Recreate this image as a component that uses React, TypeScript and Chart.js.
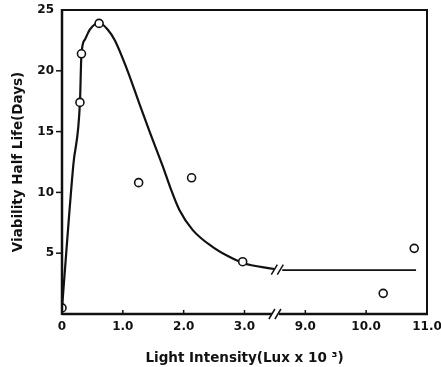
import React, { useEffect, useRef } from "react";
import { Chart, registerables } from "chart.js";

Chart.register(...registerables);

// Measured viability half life (days) against light intensity (lux x 10^3)
const sampleLux = [0, 0.295, 0.32, 0.61, 1.26, 2.13, 2.97, 10.28, 10.79];
const sampleHalfLife = [0.5, 17.4, 21.4, 23.9, 10.8, 11.2, 4.3, 1.7, 5.4];

// Fitted trend, low-intensity part (left of the axis break)
const fitLowLux = [0, 0.185, 0.295, 0.32, 0.38, 0.46, 0.61, 0.75, 0.87, 1.07, 1.25, 1.44, 1.66, 1.78, 1.93, 2.15, 2.48, 2.75, 2.97, 3.49];
const fitLowHalfLife = [0.5, 12.2, 17.4, 21.4, 22.6, 23.4, 23.95, 23.4, 22.5, 20.1, 17.6, 15.0, 12.1, 10.4, 8.55, 6.9, 5.5, 4.7, 4.2, 3.7];

// Fitted trend, high-intensity part (right of the axis break)
const fitHighLux = [8.62, 10.82];
const fitHighHalfLife = [3.6, 3.6];

// Axis ticks
const xTickValues = [0, 1, 2, 3, 9, 10, 11];
const yTickValues = [5, 10, 15, 20, 25];

// The x axis skips 3.5–8.5; values past the break are shifted left by 5
const BREAK_AT = 3.5;
const BREAK_SHIFT = 5;
const toAxis = (x: number) => (x <= BREAK_AT ? x : x - BREAK_SHIFT);
const fromAxis = (v: number) => (v <= BREAK_AT ? v : v + BREAK_SHIFT);

const FONT = "'DejaVu Sans', Verdana, sans-serif";
const INK = "#111";

const pairs = (xs: number[], ys: number[]) => xs.map((x, i) => ({ x: toAxis(x), y: ys[i] }));

const framePlugin = {
  id: "frame",
  afterDatasetsDraw(chart: any) {
    const { ctx, chartArea, scales } = chart;
    const { left, right, top, bottom } = chartArea;
    const xs = scales.x;
    const ys = scales.y;
    const bx = xs.getPixelForValue(BREAK_AT);
    ctx.save();
    ctx.strokeStyle = INK;
    ctx.lineCap = "butt";

    // top and right border
    ctx.lineWidth = 2;
    ctx.beginPath();
    ctx.moveTo(left, top);
    ctx.lineTo(right, top);
    ctx.lineTo(right, bottom);
    ctx.stroke();

    // left axis
    ctx.lineWidth = 2.5;
    ctx.beginPath();
    ctx.moveTo(left, top - 1);
    ctx.lineTo(left, bottom + 1);
    ctx.stroke();

    // bottom axis with a gap at the break
    ctx.beginPath();
    ctx.moveTo(left, bottom);
    ctx.lineTo(bx - 3, bottom);
    ctx.moveTo(bx + 4, bottom);
    ctx.lineTo(right + 1, bottom);
    ctx.stroke();

    // x ticks point into the plot
    ctx.lineWidth = 1.5;
    xTickValues.forEach((t) => {
      const v = toAxis(t);
      if (v <= 0 || t >= 11) return;
      const px = xs.getPixelForValue(v);
      ctx.beginPath();
      ctx.moveTo(px, bottom);
      ctx.lineTo(px, bottom - 4);
      ctx.stroke();
    });

    // y ticks point outwards
    yTickValues.forEach((t) => {
      if (t >= 25) return;
      const py = ys.getPixelForValue(t);
      ctx.beginPath();
      ctx.moveTo(left, py);
      ctx.lineTo(left - 6, py);
      ctx.stroke();
    });

    // break marks on the axis and on the trend line
    const slash = (cx: number, cy: number) => {
      ctx.lineWidth = 1.5;
      [-3, 3].forEach((d) => {
        ctx.beginPath();
        ctx.moveTo(cx + d - 3, cy + 5);
        ctx.lineTo(cx + d + 3, cy - 5);
        ctx.stroke();
      });
    };
    slash(bx, bottom);
    const cy = ys.getPixelForValue((fitLowHalfLife[fitLowHalfLife.length - 1] + fitHighHalfLife[0]) / 2);
    slash(xs.getPixelForValue(toAxis(fitLowLux[fitLowLux.length - 1])) + 3, cy);
    ctx.restore();
  },
};

export default function App() {
  const ref = useRef<HTMLCanvasElement | null>(null);

  useEffect(() => {
    if (!ref.current) return;
    const chart = new Chart(ref.current, {
      type: "scatter",
      data: {
        datasets: [
          {
            label: "samples",
            data: pairs(sampleLux, sampleHalfLife),
            pointRadius: 4,
            pointBorderWidth: 1.6,
            pointBackgroundColor: "#fff",
            pointBorderColor: INK,
            showLine: false,
            order: 0,
          },
          {
            label: "fit low",
            type: "line",
            data: pairs(fitLowLux, fitLowHalfLife),
            borderColor: INK,
            borderWidth: 2.2,
            pointRadius: 0,
            cubicInterpolationMode: "monotone",
            fill: false,
            order: 1,
          },
          {
            label: "fit high",
            type: "line",
            data: pairs(fitHighLux, fitHighHalfLife),
            borderColor: INK,
            borderWidth: 1.8,
            pointRadius: 0,
            fill: false,
            order: 1,
          },
        ],
      } as any,
      options: {
        responsive: false,
        animation: false,
        layout: { padding: { top: 10, right: 14, left: 0, bottom: 0 } },
        plugins: { legend: { display: false }, tooltip: { enabled: false } },
        scales: {
          x: {
            type: "linear",
            min: 0,
            max: toAxis(11),
            afterBuildTicks: (scale: any) => {
              scale.ticks = xTickValues.map((t) => ({ value: toAxis(t) }));
            },
            afterFit: (scale: any) => {
              scale.height = 53;
              scale.paddingLeft = 0;
              scale.paddingRight = 0;
            },
            grid: { display: false, drawTicks: false },
            border: { display: false },
            ticks: {
              padding: 6,
              color: INK,
              font: { family: FONT, size: 12, weight: "bold" },
              callback: (v: any) => {
                const real = fromAxis(Number(v));
                return real === 0 ? "0" : real.toFixed(1);
              },
            },
            title: {
              display: true,
              text: "Light Intensity(Lux x 10 ³)",
              color: INK,
              font: { family: FONT, size: 13.5, weight: "bold" },
              padding: { top: 3, bottom: 0 },
            },
          },
          y: {
            type: "linear",
            min: 0,
            max: 25,
            afterBuildTicks: (scale: any) => {
              scale.ticks = yTickValues.map((t) => ({ value: t }));
            },
            afterFit: (scale: any) => {
              scale.width = 62;
              scale.paddingTop = 0;
              scale.paddingBottom = 0;
            },
            grid: { display: false, drawTicks: false },
            border: { display: false },
            ticks: {
              padding: 8,
              color: INK,
              font: { family: FONT, size: 12, weight: "bold" },
            },
            title: {
              display: true,
              text: "Viability Half Life(Days)",
              color: INK,
              font: { family: FONT, size: 13.5, weight: "bold" },
              padding: { top: 10, bottom: 0 },
            },
          },
        },
      },
      plugins: [framePlugin],
    });
    return () => chart.destroy();
  }, []);

  return (
    <div style={{ position: "fixed", left: 0, top: 0, width: 441, height: 367, background: "#fff" }}>
      <canvas ref={ref} width={441} height={367} />
    </div>
  );
}
